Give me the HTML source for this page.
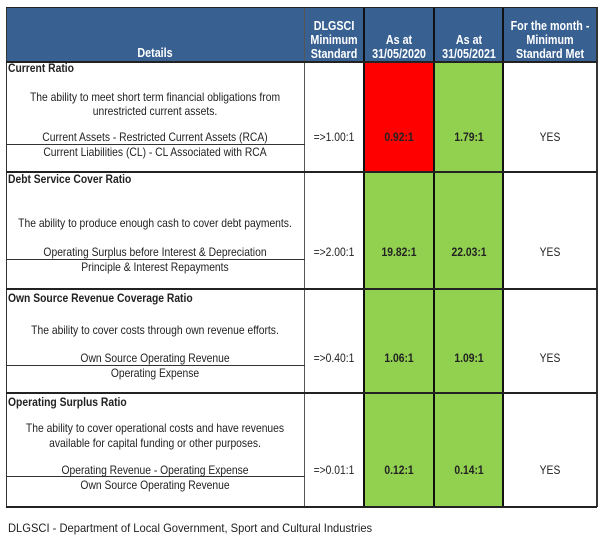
<!DOCTYPE html>
<html><head><meta charset="utf-8"><style>
body{margin:0;width:605px;height:539px;background:#fff;position:relative;overflow:hidden;font-family:"Liberation Sans",Arial,sans-serif;color:#222}
.a{position:absolute}
.t{position:absolute;white-space:nowrap;font-size:12px;line-height:14px;transform:translate(-50%,-50%) scaleX(0.86);}
.l{position:absolute;white-space:nowrap;font-size:12px;line-height:14px;font-weight:bold;transform-origin:left center;transform:translateY(-50%) scaleX(0.86);}
.h{color:#fff;font-weight:bold;font-size:12.5px}
.b{font-weight:bold}
.vl{position:absolute;top:7px;height:500px;background:#333}
.hl{position:absolute;left:6px;width:591px;height:2px;background:#222}
.fl{position:absolute;left:7px;width:298px;height:1px;background:#333}
</style></head><body>
<div class="a" style="left:6px;top:7px;width:591px;height:55px;background:#386192"></div>
<div class="a" style="left:364px;top:62px;width:70px;height:110px;background:#ff0000"></div>
<div class="a" style="left:364px;top:172px;width:70px;height:335px;background:#92d050"></div>
<div class="a" style="left:434px;top:62px;width:69px;height:445px;background:#92d050"></div>
<!-- borders -->
<div class="vl" style="left:6px;width:1px"></div>
<div class="vl" style="left:304px;width:1px;background:#555"></div>
<div class="vl" style="left:363px;width:2px;background:#111"></div>
<div class="vl" style="left:433px;width:2px;background:#111"></div>
<div class="vl" style="left:502px;width:2px;background:#111"></div>
<div class="vl" style="left:596px;width:1.5px"></div>
<div class="hl" style="top:7px;height:1px"></div>
<div class="hl" style="top:61px"></div>
<div class="hl" style="top:171px"></div>
<div class="hl" style="top:288px"></div>
<div class="hl" style="top:392px"></div>
<div class="hl" style="top:506px"></div>
<div class="fl" style="top:144px"></div>
<div class="fl" style="top:259px"></div>
<div class="fl" style="top:365px"></div>
<div class="fl" style="top:476px"></div>
<!-- header -->
<div class="t h" style="left:155px;top:53px">Details</div>
<div class="t h" style="left:334px;top:26px">DLGSCI</div>
<div class="t h" style="left:334px;top:40px">Minimum</div>
<div class="t h" style="left:334px;top:54px">Standard</div>
<div class="t h" style="left:399px;top:40px">As at</div>
<div class="t h" style="left:399px;top:54px">31/05/2020</div>
<div class="t h" style="left:469px;top:40px">As at</div>
<div class="t h" style="left:469px;top:54px">31/05/2021</div>
<div class="t h" style="left:550px;top:26px">For the month -</div>
<div class="t h" style="left:550px;top:40px">Minimum</div>
<div class="t h" style="left:550px;top:54px">Standard Met</div>
<!-- row1 -->
<div class="l" style="left:8px;top:68px">Current Ratio</div>
<div class="t" style="left:155px;top:97px">The ability to meet short term financial obligations from</div>
<div class="t" style="left:155px;top:111px">unrestricted current assets.</div>
<div class="t" style="left:155px;top:137px">Current Assets - Restricted Current Assets (RCA)</div>
<div class="t" style="left:155px;top:152px">Current Liabilities (CL) - CL Associated with RCA</div>
<div class="t" style="left:334px;top:137px">=&gt;1.00:1</div>
<div class="t b" style="left:399px;top:137px">0.92:1</div>
<div class="t b" style="left:469px;top:137px">1.79:1</div>
<div class="t" style="left:550px;top:137px">YES</div>
<!-- row2 -->
<div class="l" style="left:8px;top:179px">Debt Service Cover Ratio</div>
<div class="t" style="left:155px;top:223px">The ability to produce enough cash to cover debt payments.</div>
<div class="t" style="left:155px;top:252px">Operating Surplus before Interest &amp; Depreciation</div>
<div class="t" style="left:155px;top:267px">Principle &amp; Interest Repayments</div>
<div class="t" style="left:334px;top:252px">=&gt;2.00:1</div>
<div class="t b" style="left:399px;top:252px">19.82:1</div>
<div class="t b" style="left:469px;top:252px">22.03:1</div>
<div class="t" style="left:550px;top:252px">YES</div>
<!-- row3 -->
<div class="l" style="left:8px;top:298px">Own Source Revenue Coverage Ratio</div>
<div class="t" style="left:155px;top:330px">The ability to cover costs through own revenue efforts.</div>
<div class="t" style="left:155px;top:358px">Own Source Operating Revenue</div>
<div class="t" style="left:155px;top:373px">Operating Expense</div>
<div class="t" style="left:334px;top:358px">=&gt;0.40:1</div>
<div class="t b" style="left:399px;top:358px">1.06:1</div>
<div class="t b" style="left:469px;top:358px">1.09:1</div>
<div class="t" style="left:550px;top:358px">YES</div>
<!-- row4 -->
<div class="l" style="left:8px;top:402px">Operating Surplus Ratio</div>
<div class="t" style="left:155px;top:428px">The ability to cover operational costs and have revenues</div>
<div class="t" style="left:155px;top:443px">available for capital funding or other purposes.</div>
<div class="t" style="left:155px;top:470px">Operating Revenue - Operating Expense</div>
<div class="t" style="left:155px;top:485px">Own Source Operating Revenue</div>
<div class="t" style="left:334px;top:470px">=&gt;0.01:1</div>
<div class="t b" style="left:399px;top:470px">0.12:1</div>
<div class="t b" style="left:469px;top:470px">0.14:1</div>
<div class="t" style="left:550px;top:470px">YES</div>
<!-- footer -->
<div class="a" style="left:8px;top:521px;font-size:12px;line-height:14px;white-space:nowrap;transform-origin:left top;transform:scaleX(0.93)">DLGSCI - Department of Local Government, Sport and Cultural Industries</div>
</body></html>
